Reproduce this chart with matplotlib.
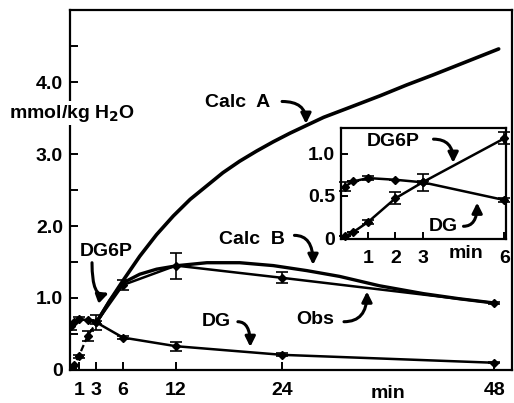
import numpy as np
import matplotlib
matplotlib.use("Agg")
import matplotlib.pyplot as plt

# Observed time points (min)
t_obs = [0.15, 0.45, 1, 2, 3, 6, 12, 24, 48]
# DG6P observed (Obs), mmol/kg H2O
dg6p = [0.02, 0.07, 0.19, 0.47, 0.66, 1.18, 1.45, 1.28, 0.93]
dg6p_err = [0.0, 0.0, 0.02, 0.07, 0.10, 0.07, 0.18, 0.075, 0.02]
# DG observed
dg = [0.61, 0.67, 0.71, 0.69, 0.66, 0.45, 0.33, 0.21, 0.10]
dg_err = [0.05, 0.0, 0.02, 0.0, 0.02, 0.02, 0.06, 0.02, 0.01]

# Calculated curves
t_calc_a = [3, 4.5, 6, 7.9, 9.8, 11.7, 13.6, 15.5, 17.3, 19.2, 21.1, 23, 24.9,
            26.8, 28.7, 31.7, 35.1, 38.1, 41.1, 44.8, 48.5]
calc_a = [0.66, 0.96, 1.24, 1.58, 1.88, 2.14, 2.37, 2.56, 2.74, 2.90, 3.04, 3.17, 3.29,
          3.40, 3.51, 3.65, 3.81, 3.96, 4.10, 4.28, 4.46]
t_calc_b = [3, 4.5, 6, 7.9, 9.8, 12.2, 15.5, 19.2, 23, 26.8, 30.5, 35, 40, 44, 48]
calc_b = [0.66, 0.96, 1.21, 1.33, 1.40, 1.45, 1.49, 1.49, 1.45, 1.38, 1.30, 1.17, 1.06,
          0.99, 0.93]

main_xticks = [1, 3, 6, 12, 24, 48]
inset_xticks = [1, 2, 3, 6]

plt.rcParams['font.family'] = ['Liberation Sans', 'DejaVu Sans']
plt.rcParams['font.weight'] = 'bold'
FS = 14

fig = plt.figure(figsize=(5.14, 4.03), dpi=100)
ax = fig.add_axes([0.136, 0.082, 0.860, 0.893])

# Calc curves
ax.plot(t_calc_a, calc_a, color='black', lw=2.6, solid_capstyle='round')
ax.plot(t_calc_b, calc_b, color='black', lw=2.4)

# early DG6P points dashed, later solid
ax.plot(t_obs[:5], dg6p[:5], color='black', lw=1.6, ls=(0, (3, 1.5)))
ax.plot(t_obs[4:], dg6p[4:], color='black', lw=1.8)
ax.errorbar(t_obs, dg6p, yerr=dg6p_err, fmt='D', color='black', ms=4,
            capsize=4, elinewidth=1.2, capthick=1.2)
ax.errorbar(t_obs, dg, yerr=dg_err, fmt='D-', color='black', ms=4, lw=1.8,
            capsize=4, elinewidth=1.2, capthick=1.2)

ax.set_xlim(0, 50)
ax.set_ylim(0, 5.0)
ax.set_xticks(main_xticks)
ax.set_xticklabels([str(v) for v in main_xticks], fontsize=FS)
ax.set_yticks([0, 1, 2, 3, 4])
ax.set_yticklabels(['0', '1.0', '2.0', '3.0', '4.0'], fontsize=FS)
ax.set_yticks(np.arange(0.5, 5.0, 1.0), minor=True)
ax.tick_params(direction='in', length=6, width=1.4, which='both')
ax.tick_params(axis='x', pad=9)
ax.tick_params(axis='y', pad=5)
for s in ax.spines.values():
    s.set_linewidth(1.6)
ax.text(36, -0.21, 'min', fontsize=FS, ha='center', va='top', clip_on=False)

fig.text(72 / 514, 1 - 113 / 403, 'mmol/kg H$_2$O', fontsize=FS, ha='center',
         va='center', bbox=dict(facecolor='white', edgecolor='none', pad=1))

arrow = dict(arrowstyle='-|>', color='black', lw=2.2, mutation_scale=15,
             shrinkA=0, shrinkB=0)

def label(a, text, txy, start, end, conn):
    a.text(txy[0], txy[1], text, fontsize=FS, ha='center', va='center')
    a.annotate('', xy=end, xytext=start,
               arrowprops=dict(connectionstyle=conn, **arrow))

hook = 'angle3,angleA=0,angleB=90'
label(ax, 'Calc  A', (19.0, 3.72), (24.0, 3.73), (26.7, 3.42), hook)
label(ax, 'Calc  B', (20.6, 1.81), (25.4, 1.87), (27.5, 1.46), hook)
label(ax, 'DG6P', (4.1, 1.64), (2.5, 1.49), (4.4, 1.07), 'angle3,angleA=90,angleB=20')
label(ax, 'DG', (16.6, 0.67), (19.0, 0.67), (20.4, 0.32), hook)
label(ax, 'Obs', (27.8, 0.70), (31.0, 0.67), (33.6, 1.09), hook)

# inset
ins = fig.add_axes([0.663, 0.407, 0.321, 0.275])
n = 6
ins.plot(t_obs[:n], dg6p[:n], color='black', lw=1.8)
ins.errorbar(t_obs[:n], dg6p[:n], yerr=dg6p_err[:n], fmt='D', color='black',
             ms=4, capsize=4, elinewidth=1.2, capthick=1.2, clip_on=False)
ins.errorbar(t_obs[:n], dg[:n], yerr=dg_err[:n], fmt='D-', color='black', ms=4,
             lw=1.8, capsize=4, elinewidth=1.2, capthick=1.2, clip_on=False)
ins.set_xlim(0, 6.05)
ins.set_ylim(-0.01, 1.3)
ins.set_xticks(inset_xticks)
ins.set_xticklabels([str(v) for v in inset_xticks], fontsize=FS)
ins.set_yticks([0, 0.5, 1.0])
ins.set_yticklabels(['0', '0.5', '1.0'], fontsize=FS)
ins.tick_params(direction='in', length=5, width=1.4)
ins.tick_params(axis='x', pad=8)
ins.tick_params(axis='y', pad=4)
for s in ins.spines.values():
    s.set_linewidth(1.6)
ins.text(4.6, -0.08, 'min', fontsize=FS, ha='center', va='top', clip_on=False)

label(ins, 'DG6P', (1.91, 1.14), (3.4, 1.17), (4.12, 0.89), hook)
label(ins, 'DG', (3.75, 0.14), (4.5, 0.14), (5.0, 0.42), hook)

fig.savefig('out.png', dpi=100)
